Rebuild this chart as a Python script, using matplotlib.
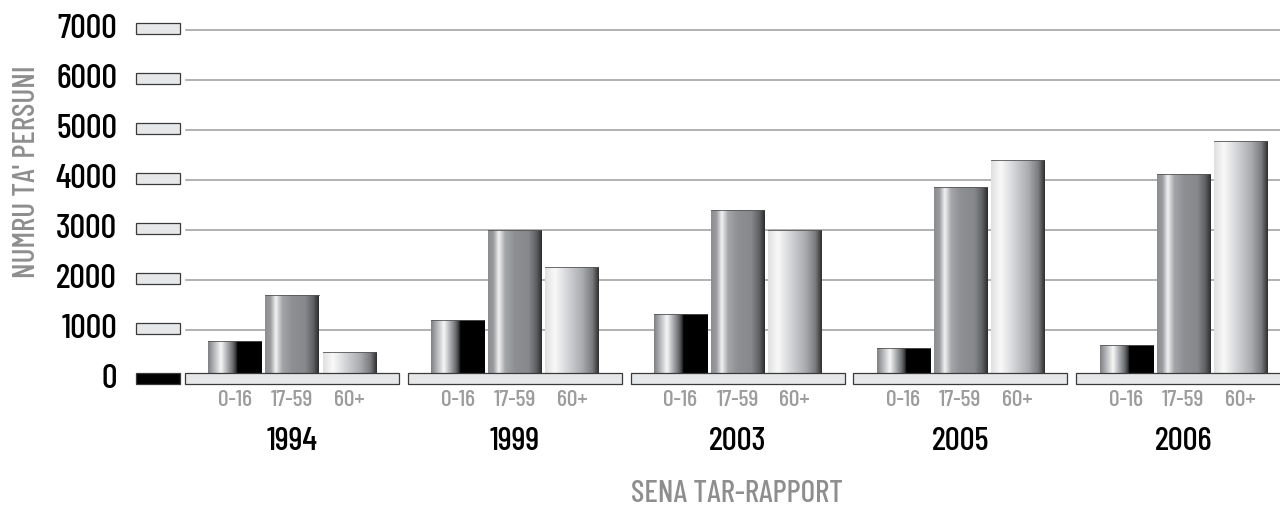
import numpy as np
import matplotlib
matplotlib.use('Agg')
import matplotlib.pyplot as plt
from matplotlib.colors import LinearSegmentedColormap
from matplotlib.patches import Rectangle

years = ['1994', '1999', '2003', '2005', '2006']
groups = ['0-16', '17-59', '60+']
v_0_16 = [780, 1200, 1320, 640, 700]
v_17_59 = [1700, 3000, 3400, 3860, 4120]
v_60 = [560, 2260, 3000, 4400, 4780]
yticks = [0, 1000, 2000, 3000, 4000, 5000, 6000, 7000]

plt.rcParams['font.family'] = ['Barlow Condensed', 'DejaVu Sans']
plt.rcParams['font.weight'] = 500

W, H = 1280, 508
fig = plt.figure(figsize=(12.8, 5.08), dpi=100)
ax = fig.add_axes([0, 0, 1, 1])
ax.axis('off')

# x: group centre at 0..4, y: value units (50 px per 1000)
px = 222.8
x0px = 292
xlim = (-x0px / px, (W - x0px) / px)
ylim = (-128 * 20, (H - 128) * 20)

cm_young = LinearSegmentedColormap.from_list('c1', [
    (0.0, '#7e7f83'), (0.12, '#b9babd'), (0.24, '#f7f7f7'), (0.36, '#a9aaad'),
    (0.46, '#6b6c6f'), (0.53, '#2a2a2a'), (0.545, '#000000'), (1.0, '#000000')])
cm_mid = LinearSegmentedColormap.from_list('c2', [
    (0.0, '#8c8d91'), (0.1, '#9a9b9f'), (0.2, '#f2f2f2'), (0.32, '#a4a5a8'),
    (0.5, '#8e8f93'), (0.75, '#87888c'), (0.9, '#5e5f62'), (1.0, '#2b2b2b')])
cm_old = LinearSegmentedColormap.from_list('c3', [
    (0.0, '#dedfe1'), (0.18, '#f9f9f9'), (0.45, '#cfd0d3'), (0.7, '#a9aaad'),
    (0.88, '#7a7b7e'), (1.0, '#2e2e2e')])
cmaps = [cm_young, cm_mid, cm_old]
grad = np.linspace(0, 1, 256).reshape(1, -1)

# gridlines
for t in yticks[1:]:
    ax.plot([(186 - x0px) / px, xlim[1]], [t, t], color='#9d9d9d', lw=1.1, zorder=1)

# tick slabs and labels
for t in yticks:
    fc = '#000000' if t == 0 else '#e6e7e8'
    ax.add_patch(Rectangle((-0.70, t - 80), 0.197, 220, facecolor=fc,
                           edgecolor='#3a3a3a', lw=0.9, zorder=3))
    ax.text(-0.785, t + 20, str(t), ha='right', va='center', fontsize=25,
            color='black', zorder=4)

bw = 0.238
step = 0.2565
series = [v_0_16, v_17_59, v_60]
for i, yr in enumerate(years):
    for j in range(3):
        xc = i + (j - 1) * step
        val = series[j][i]
        ax.imshow(grad, cmap=cmaps[j], aspect='auto', interpolation='bilinear',
                  extent=[xc - bw / 2, xc + bw / 2, 0, val], zorder=2)
        ax.plot([xc - bw / 2, xc + bw / 2], [val, val], color='#555555', lw=0.6, zorder=2.5)
        ax.text(xc, -390, groups[j], ha='center', va='center', fontsize=17,
                color='#9c9c9c')
    # floor slab
    ax.add_patch(Rectangle((i - 0.48, -80), 0.96, 220, facecolor='#e6e7e8',
                           edgecolor='#3a3a3a', lw=0.9, zorder=3))
    ax.text(i, -1240, yr, ha='center', va='center', fontsize=24, color='black')

ax.text((737 - x0px) / px, -2280, 'SENA TAR-RAPPORT', ha='center', va='center',
        fontsize=22.5, color='#8e8e8e')
ax.text((27 - x0px) / px, (380 - 172) * 20, "NUMRU TA' PERSUNI", ha='center',
        va='center', rotation=90, fontsize=22.5, color='#8e8e8e')

ax.set_xlim(*xlim)
ax.set_ylim(*ylim)
fig.savefig('out.png', dpi=100)
